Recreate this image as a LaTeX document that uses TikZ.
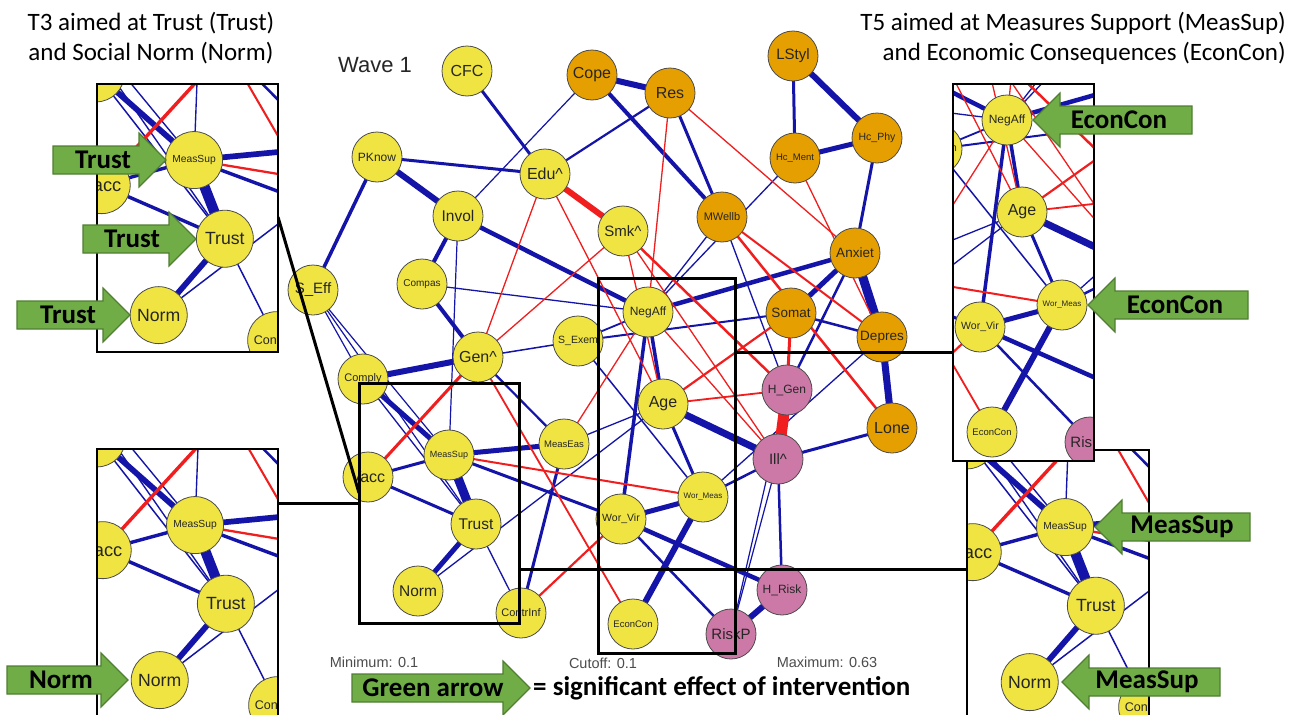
\documentclass[tikz,border=0pt]{standalone}
\usepackage{fontspec}
\setmainfont{Carlito}
\newfontfamily\arialf{Liberation Sans}
\definecolor{nyel}{HTML}{F0E442}
\definecolor{nora}{HTML}{E69F00}
\definecolor{npink}{HTML}{CC79A7}
\definecolor{eblue}{HTML}{1414A8}
\definecolor{ered}{HTML}{F01E1E}
\definecolor{garfill}{HTML}{70AD47}
\definecolor{garline}{HTML}{507E32}
\def\lwf{1}
\tikzset{
  pedge/.style={draw=eblue, line width={(#1)*\lwf*1pt}},
  nedge/.style={draw=ered, line width={(#1)*\lwf*1pt}},
  nd/.style={circle, draw=black!70, line width=0.8pt, minimum size=50pt, inner sep=0pt, text=black!85, font=\arialf\fontsize{#1}{#1}\selectfont},
  boxln/.style={draw=black, line width=3pt},
  insetln/.style={draw=black, line width=2.5pt},
  garrowst/.style={fill=garfill, draw=garline, line width=1.2pt, line join=miter},
  garrtext/.style={font=\bfseries\fontsize{27}{27}\selectfont, text=black, inner sep=0pt},
  ttl/.style={font=\fontsize{25}{25}\selectfont, inner sep=0pt},
  smalltxt/.style={font=\arialf\fontsize{14.5}{14.5}\selectfont, text=black!70, inner sep=0pt},
}
\def\nodelist{cfc/467/71/CFC/16/nyel, cope/592/75/Cope/16/nora, res/670/93/Res/16/nora, lstyl/793/56/LStyl/15/nora, hcment/795/158/Hc\_Ment/9.5/nora, hcphy/877/138/Hc\_Phy/10.5/nora, pknow/377/157/PKnow/12/nyel, edu/545/174/Edu\textasciicircum/16/nyel, invol/458/216/Invol/15.5/nyel, smk/623/231/Smk\textasciicircum/15/nyel, mwellb/722/217/MWellb/11/nora, anxiet/855/253/Anxiet/13.5/nora, seff/313/290/S\_Eff/15/nyel, compas/422/284/Compas/10/nyel, negaff/648/312/NegAff/12/nyel, somat/791/313/Somat/13.5/nora, depres/882/337/Depres/13.5/nora, sexem/578/341/S\_Exem/10.5/nyel, gen/478/357/Gen\textasciicircum/16/nyel, comply/363/379/Comply/11/nyel, hgen/787/390/H\_Gen/12/npink, age/663/404/Age/16/nyel, lone/892/428/Lone/16/nora, meassup/449/455/MeasSup/9/nyel, measeas/564/444/MeasEas/9.5/nyel, ill/778/459/Ill\textasciicircum/15/npink, acc/368/477/Vacc/16/nyel, trust/476/524/Trust/15.5/nyel, wormeas/703/497/Wor\_Meas/8/nyel, worvir/621/519/Wor\_Vir/10.5/nyel, hrisk/782/590/H\_Risk/12/npink, norm/418/591/Norm/15.5/nyel, contrinf/521/613/ContrInf/11/nyel, econcon/633/624/EconCon/9.5/nyel, riskp/731/634/RiskP/15/npink}
% #1 prefix, #2 xmin, #3 xmax, #4 ymin, #5 ymax (visible region, main coordinates)
\newcommand\netw[5]{%
\foreach \nn/\nx/\ny/\lab/\fs/\col in \nodelist {\coordinate (#1\nn) at (\nx,\ny);}
\foreach \na/\nb/\nw in {cfc/edu/3, cope/res/6, cope/invol/1.2, cope/mwellb/4, edu/res/2.2, pknow/edu/3, pknow/invol/6, pknow/seff/3.5, lstyl/hcment/3, lstyl/hcphy/6, hcment/hcphy/5, hcment/negaff/1.3, hcphy/anxiet/3, res/mwellb/3, anxiet/depres/9, anxiet/negaff/4.5, anxiet/somat/5, anxiet/hgen/2.5, depres/lone/7, mwellb/negaff/1.3, mwellb/hgen/1.3, invol/negaff/4.5, invol/compas/4, invol/meassup/1.2, compas/negaff/1.3, compas/gen/4, seff/comply/1.2, seff/meassup/1.2, seff/trust/1.2, gen/sexem/1.5, gen/comply/6, gen/measeas/2.2, comply/meassup/5, comply/trust/1.3, acc/meassup/3, acc/trust/3, meassup/trust/9, meassup/measeas/5, meassup/worvir/3, trust/norm/5, norm/age/1.3, trust/contrinf/1.3, measeas/contrinf/3, measeas/age/1.3, sexem/negaff/1.8, sexem/somat/2, sexem/wormeas/1.5, negaff/age/3.5, negaff/worvir/3.5, age/ill/7, age/wormeas/3, worvir/wormeas/5, worvir/hrisk/4.5, worvir/riskp/2.5, wormeas/econcon/6, wormeas/ill/2.5, depres/wormeas/1.3, ill/lone/3, ill/hrisk/2.5, ill/riskp/1.2, hgen/riskp/1.2, hrisk/riskp/6, somat/depres/2.5}
  {\draw[pedge=\nw] (#1\na) -- (#1\nb);}
\foreach \na/\nb/\nw in {edu/smk/6, edu/gen/1.3, edu/age/1.3, res/negaff/1.3, res/anxiet/1.3, hcment/depres/1.3, gen/acc/3, gen/smk/1.3, gen/econcon/1.8, meassup/wormeas/2, contrinf/worvir/2.2, smk/hgen/2.5, smk/ill/1.3, smk/age/1.3, negaff/ill/1.3, measeas/negaff/1.3, age/hgen/1.8, age/somat/2.2, mwellb/depres/2, mwellb/lone/2.5, somat/hgen/3, hgen/ill/11}
  {\draw[nedge=\nw] (#1\na) -- (#1\nb);}
\foreach \nn/\nx/\ny/\lab/\fs/\col in \nodelist {%
  \pgfmathtruncatemacro\keep{and(and(\nx>(#2-26),\nx<(#3+26)),and(\ny>(#4-26),\ny<(#5+26)))}%
  \ifnum\keep=1 \node[nd=\fs, fill=\col] (#1\nn-n) at (#1\nn) {\lab};\fi}
}
\newcommand\garR[6]{%
  \draw[garrowst] (#1,#2) -- ++(-27,-27) -- ++(0,13) -- ++(-#3,0) -- ++(0,28) -- ++(#3,0) -- ++(0,13) -- cycle;
  \node[garrtext] (#6) at (#4,#2) {#5};}
\newcommand\garL[6]{%
  \draw[garrowst] (#1,#2) -- ++(27,-27) -- ++(0,13) -- ++(#3,0) -- ++(0,28) -- ++(-#3,0) -- ++(0,13) -- cycle;
  \node[garrtext] (#6) at (#4,#2) {#5};}
\begin{document}
\begin{tikzpicture}[x=1pt,y=-1pt]
\useasboundingbox (0,0) rectangle (1299,715);
\fill[white] (0,0) rectangle (1299,715);
% main network
\netw{m}{0}{1299}{0}{715}
% boxes
\draw[boxln] (359,383) rectangle (519,623);
\draw[boxln] (598,278) rectangle (735,653);
\coordinate (tlE) at (278,217);
\coordinate (lbW) at (359,493);
\coordinate (blE) at (278,503);
\coordinate (lbW2) at (359,503);
\coordinate (mbE) at (735,352);
\coordinate (trW) at (953,352);
\coordinate (lbE) at (519,569);
\coordinate (brW) at (967,569);
\draw[boxln] (tlE) -- (lbW);
\draw[boxln] (blE) -- (lbW2);
\draw[boxln] (mbE) -- (trW);
\draw[boxln] (lbE) -- (brW);
% bottom-right inset
\begin{scope}
  \clip (967,450) rectangle (1149,730);
  \fill[white] (967,450) rectangle (1149,730);
  \begin{scope}[shift={(1065,527)}, scale=1.14, shift={(-449,-455)}, transform shape]
    \def\lwf{1.14}
    \netw{br}{363}{523}{387}{620}
  \end{scope}
\end{scope}
\draw[insetln] (967,450) rectangle (1149,730);
% top-right inset
\begin{scope}
  \clip (953,84) rectangle (1094,461);
  \fill[white] (953,84) rectangle (1094,461);
  \begin{scope}[shift={(359,-192)}]
    \netw{tr}{594}{735}{276}{653}
  \end{scope}
\end{scope}
\draw[insetln] (953,84) rectangle (1094,461);
% top-left inset
\begin{scope}
  \clip (97,84) rectangle (278,352);
  \fill[white] (97,84) rectangle (278,352);
  \begin{scope}[shift={(194,160)}, scale=1.14, shift={(-449,-455)}, transform shape]
    \def\lwf{1.14}
    \netw{tl}{364}{523}{388}{623}
  \end{scope}
\end{scope}
\draw[insetln] (97,84) rectangle (278,352);
% bottom-left inset
\begin{scope}
  \clip (97,449) rectangle (278,730);
  \fill[white] (97,449) rectangle (278,730);
  \begin{scope}[shift={(195,525)}, scale=1.14, shift={(-449,-455)}, transform shape]
    \def\lwf{1.14}
    \netw{bl}{363}{522}{388}{622}
  \end{scope}
\end{scope}
\draw[insetln] (97,449) rectangle (278,730);
% green arrows
\garR{166}{160}{86}{103}{Trust}{ga1}
\garR{196}{239}{86}{132}{Trust}{ga2}
\garR{130}{315}{86}{68}{Trust}{ga3}
\garR{128}{680}{94}{61}{Norm}{ga4}
\garL{1033}{120}{132}{1119}{EconCon}{ga5}
\garL{1088}{305}{133}{1175}{EconCon}{ga6}
\garL{1095}{527}{128}{1182}{MeasSup}{ga7}
\garL{1062}{682}{131}{1147}{MeasSup}{ga8}
\garR{530}{688}{151}{433}{Green arrow}{ga9}
\node[garrtext, anchor=west] (legtxt) at (533,688) {= significant effect of intervention};
% titles
\node[ttl] (t3a) at (151,23) {T3 aimed at Trust (Trust)};
\node[ttl] (t3b) at (151,53) {and Social Norm (Norm)};
\node[ttl, anchor=east] (t5a) at (1286,23) {T5 aimed at Measures Support (MeasSup)};
\node[ttl, anchor=east] (t5b) at (1286,53) {and Economic Consequences (EconCon)};
\node[font=\arialf\fontsize{22}{22}\selectfont, text=black!85, inner sep=0pt] (wave) at (375,65) {Wave 1};
\node[smalltxt] (minv) at (374,662) {Minimum: 0.1};
\node[smalltxt] (cutv) at (603,663) {Cutoff: 0.1};
\node[smalltxt] (maxv) at (827,662) {Maximum: 0.63};
\end{tikzpicture}
\end{document}
